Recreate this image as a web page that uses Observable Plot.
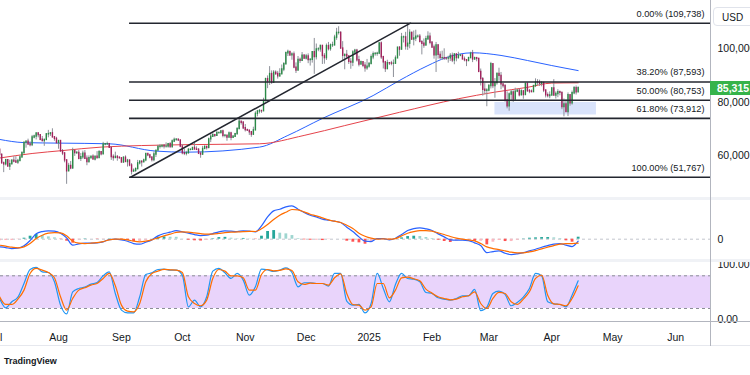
<!DOCTYPE html>
<html><head><meta charset="utf-8">
<script src="https://cdn.jsdelivr.net/npm/d3@7"></script>
<script src="https://cdn.jsdelivr.net/npm/@observablehq/plot@0.6"></script>
<style>
html,body{margin:0;padding:0;background:#fff;overflow:hidden;}
#root{position:relative;width:750px;height:375px;font-family:"Liberation Sans",Arial,sans-serif;color:#131722;overflow:hidden;}
.pane{position:absolute;left:0;}
.abs{position:absolute;}
</style></head><body><div id="root"></div>
<script>
// ---------- daily candles (thousands USD), Jul 3 2024 .. Apr 14 2025 ----------
const candleStart = "2024-07-03";
const firstOpen = 62.1;
const closes = [
 60.2,57.0,56.6,58.2,55.8,56.7,58.0,57.7,57.3,57.9,59.2,60.8,64.8,65.1,64.1,63.9,66.7,67.1,68.2,67.6,65.9,65.4,65.8,67.9,68.0,68.3,66.8,66.2,64.6,
 65.4,61.5,60.7,58.1,54.0,56.0,55.1,61.7,60.9,60.9,58.7,59.3,60.6,58.7,57.5,58.9,59.5,58.4,59.5,59.0,61.2,60.4,64.1,64.2,64.2,62.8,59.4,59.0,59.4,59.1,58.9,
 57.3,59.1,57.5,58.0,56.2,53.9,54.2,54.8,57.0,57.6,57.4,58.1,60.5,60.0,59.2,58.2,60.3,61.8,63.2,63.3,63.6,63.3,63.3,64.2,63.1,65.2,65.8,65.9,65.6,63.3,
 60.8,60.6,60.8,62.1,62.1,62.8,62.2,62.1,60.6,60.3,62.4,63.2,62.8,66.0,67.0,67.6,67.4,68.4,68.4,69.0,67.4,67.4,66.7,68.2,66.6,67.0,68.0,69.9,72.7,72.3,70.2,
 69.5,69.3,68.7,67.8,69.4,75.6,76.5,76.7,76.6,80.4,88.7,87.9,90.6,87.3,91.1,90.6,89.8,90.5,92.3,94.3,98.4,98.9,97.7,98.0,93.0,91.9,95.9,95.6,97.5,96.4,
 97.2,95.9,96.0,98.8,97.0,99.9,99.9,101.2,97.4,96.6,101.1,100.0,101.4,101.4,104.3,106.1,106.1,100.2,97.5,97.8,97.2,95.2,94.9,98.7,99.4,95.8,94.2,95.1,93.7,92.8,93.4,
 94.4,96.9,98.1,98.2,98.3,102.1,96.9,95.0,92.5,94.7,94.6,94.5,94.5,96.5,100.5,99.8,104.4,104.4,101.0,102.0,106.1,103.6,104.0,104.7,104.7,102.6,102.0,101.3,103.7,104.7,102.4,
 100.6,97.7,101.4,97.8,96.6,96.6,96.5,96.4,96.5,97.4,95.7,98.0,96.6,97.5,97.6,96.1,95.8,95.5,96.6,98.3,96.1,96.6,96.3,91.4,88.7,84.7,84.3,84.4,
 86.1,94.3,86.1,87.2,90.6,89.9,86.7,86.1,80.7,78.5,82.9,83.7,81.0,84.0,84.3,82.6,84.1,82.7,86.8,84.2,84.0,83.8,86.1,87.5,87.4,86.9,87.2,84.4,82.6,82.3,82.5,
 85.2,82.5,83.1,83.8,83.5,78.2,79.2,76.3,82.6,79.6,83.4,85.3,83.7,85.315
];
const highs = [
 62.3,60.5,57.5,58.5,58.4,58.2,58.3,59.5,59.5,58.5,59.9,61.4,64.9,65.4,66.1,65.1,67.5,67.6,68.4,68.5,67.8,67.1,66.1,68.2,69.4,68.3,70.0,67.0,66.8,
 65.6,65.6,62.2,61.1,58.3,57.0,57.7,62.7,61.7,61.5,61.8,60.7,61.6,61.8,59.8,59.8,59.6,60.2,59.6,61.4,61.8,61.4,64.9,64.5,65.0,64.5,63.2,60.2,61.2,59.9,59.4,
 59.0,59.4,59.8,58.5,58.3,56.9,54.9,55.3,58.1,58.0,57.9,58.6,60.6,60.6,60.4,59.2,61.3,61.8,63.8,64.1,63.6,63.9,64.7,64.5,64.8,65.8,66.5,66.3,66.1,65.6,
 64.1,62.4,61.5,62.5,62.4,62.9,64.5,63.2,62.5,61.3,63.4,63.5,63.3,66.5,67.9,68.4,67.9,68.9,68.7,69.4,69.5,67.8,67.5,68.8,68.7,67.4,68.3,70.3,73.6,72.7,72.7,
 71.6,69.9,69.4,69.0,70.6,76.4,76.9,77.2,76.9,81.5,89.0,89.9,93.4,91.8,91.9,91.8,91.6,92.6,94.0,94.9,98.9,99.6,99.0,98.6,98.9,94.8,97.2,96.6,98.7,97.9,
 98.0,98.2,96.3,99.0,104.0,101.9,100.5,101.4,101.2,98.3,101.9,102.5,101.9,102.6,105.2,107.8,108.4,106.5,102.8,98.1,99.5,97.4,96.4,99.4,99.9,99.9,97.3,95.5,95.2,94.9,96.1,
 94.9,97.8,98.9,98.7,98.8,102.5,102.7,97.3,95.4,95.8,94.9,95.4,95.9,97.4,100.7,100.9,105.9,104.9,106.3,109.7,107.3,106.4,106.8,107.1,105.3,105.5,103.2,103.8,104.8,106.5,106.0,
 102.8,101.5,102.5,101.7,99.0,99.2,100.1,96.9,97.3,98.3,98.5,98.1,98.0,98.8,97.9,97.7,97.0,96.0,96.9,98.8,99.5,96.9,96.7,96.5,92.5,89.3,87.0,85.1,
 86.6,95.0,94.4,88.9,91.0,92.8,91.2,86.9,86.5,83.9,83.5,84.4,84.3,85.3,84.7,85.0,84.7,84.1,87.3,87.4,84.8,84.6,86.1,88.8,88.5,88.3,87.8,87.5,84.6,83.5,83.9,
 85.5,88.5,83.9,84.7,84.2,83.8,81.2,80.9,83.5,82.7,84.2,85.9,86.1,85.8
];
const lows = [
 59.4,56.8,53.5,56.0,55.7,54.3,56.3,57.2,57.0,56.6,57.8,59.2,60.7,62.7,63.9,63.2,63.3,66.2,65.8,66.6,65.5,65.1,63.4,65.8,66.6,67.1,66.5,65.3,64.5,
 62.3,61.2,59.9,57.2,49.1,53.9,54.6,54.7,59.6,60.3,58.3,57.7,58.5,58.4,56.1,57.1,58.8,58.4,57.9,58.6,58.8,59.8,60.3,63.6,63.8,62.8,58.1,57.8,58.8,57.8,58.7,
 57.2,57.1,57.4,55.6,55.7,52.6,53.8,53.6,54.6,56.4,55.6,57.3,57.6,59.5,58.7,57.5,57.6,59.2,61.6,62.4,62.8,62.4,62.7,62.7,62.7,62.7,64.8,65.4,65.4,62.9,
 60.2,59.9,59.8,60.5,61.7,61.8,62.1,61.8,60.3,58.9,60.0,62.4,62.0,62.4,64.8,66.7,66.7,67.1,68.0,68.1,66.6,66.6,65.3,66.5,65.5,66.5,66.8,67.6,69.7,71.4,69.7,
 68.8,69.0,67.5,66.8,67.5,69.3,74.5,75.6,75.8,76.5,80.2,85.1,86.3,86.7,87.1,90.1,88.7,89.4,90.5,91.5,94.1,97.2,97.2,95.8,92.6,90.8,91.8,94.6,95.3,96.1,
 95.9,94.5,93.6,94.7,90.5,95.9,99.0,98.8,94.2,94.3,95.7,99.3,99.2,100.6,101.2,103.3,105.3,100.0,95.6,92.2,96.4,94.2,92.4,93.4,97.6,95.1,93.3,94.1,93.0,91.3,92.0,
 92.8,94.2,96.0,97.3,97.3,97.9,96.1,92.5,91.2,92.2,93.8,93.7,89.3,94.3,96.5,97.3,99.7,102.3,99.6,99.5,100.1,103.3,101.2,102.8,104.1,102.5,97.8,100.3,101.3,103.3,101.6,
 100.3,96.2,91.2,96.2,96.2,95.7,95.7,95.7,94.7,95.3,94.9,94.1,95.2,96.3,97.1,96.0,95.2,93.4,95.3,96.4,94.9,95.8,95.2,91.4,86.1,82.3,82.8,78.3,
 83.9,85.0,85.1,81.5,86.4,87.9,84.7,85.3,80.0,77.5,76.6,80.2,79.9,80.8,83.6,82.0,82.5,81.1,82.6,83.7,83.2,83.6,83.8,85.5,86.3,85.9,85.8,83.6,81.6,81.6,81.3,
 82.4,82.3,81.2,81.7,82.4,77.2,74.5,76.2,74.6,78.5,78.9,82.8,82.7,83.7
];

// ---------- moving averages ----------
const sma100Dates = ["2024-07-03","2024-07-15","2024-08-02","2024-08-26","2024-09-18","2024-10-03","2024-11-08","2024-11-22","2024-12-09","2025-01-03","2025-01-16","2025-01-30","2025-02-08","2025-02-21","2025-03-07","2025-03-20","2025-04-01","2025-04-14"];
const sma100Values = [66.0,64.8,64.6,64.35,61.6,61.2,63.1,67.5,73.9,82.5,88.2,93.8,96.8,98.6,97.6,95.7,93.8,91.9];
const sma200Dates = ["2024-07-03","2024-07-19","2024-08-03","2024-08-22","2024-10-01","2024-11-08","2024-11-30","2024-12-20","2025-01-16","2025-02-14","2025-03-04","2025-03-20","2025-04-01","2025-04-14"];
const sma200Values = [59.0,60.7,61.8,63.1,64.0,64.35,67.5,71.2,76.2,81.3,83.8,85.6,87.2,87.3];

// ---------- drawings ----------
const fibRatios = [0, 0.382, 0.5, 0.618, 1];
const fibPrices = [109.738, 87.593, 80.753, 73.912, 51.767];
const fibStart = "2024-09-05";
const trendDates = ["2024-09-05T12:00Z", "2025-01-21T09:00Z"];
const trendPrices = [51.767, 109.738];
const zoneDates = ["2025-03-04", "2025-04-23"];
const zonePrices = [79.9, 75.2];

// ---------- indicators, every 3 days from Jul 3 2024 ----------
const indStart = "2024-07-03";
const indStepDays = 3;
const macdLine = [
 -1530,-1670,-1870,-1800,-1330,-270,1070,1530,1670,1600,1200,270,-1200,-930,-800,-800,-730,-530,-70,0,-130,-400,-870,-1000,-600,-130,670,1130,1400,1730,1470,1200,930,
 730,800,1130,1470,1670,1600,1530,1670,1600,1470,2670,4470,5670,6000,6470,6670,6000,5340,4800,4470,4000,3800,3600,3340,2400,1530,470,-400,-470,130,130,-130,
 200,930,1730,2130,2270,2070,1730,1070,470,-130,-200,-200,-270,-730,-1270,-2670,-2470,-2330,-2800,-3070,-2930,-2670,-2330,-2000,-1600,-1270,-1000,-870,-1200,-1470,-400
];
const signalLine = [
 -1200,-1400,-1600,-1730,-1530,-870,130,800,1200,1330,1270,670,-400,-800,-870,-800,-670,-470,-130,0,0,-130,-400,-530,-400,-130,270,670,1000,1350,1450,1400,1250,
 1100,1000,1030,1150,1300,1400,1450,1520,1560,1540,
 2070,2930,3940,4800,5400,5940,5870,5470,5000,4670,4270,3870,3600,3340,2800,2130,1200,600,200,0,70,0,
 130,670,1200,1530,1730,1730,1600,1270,930,530,200,0,-130,-330,-870,-1530,-1870,-2070,-2330,-2600,-2730,-2730,-2530,-2270,-1930,-1600,-1270,-1000,-870,-870,-800
];
const stochK = [
 38.4,21.3,32.3,40.9,65.9,91.6,95.3,87.3,86.1,69.0,26.2,10.0,50.6,56.8,59.2,64.7,67.8,80.0,87.3,47.6,17.0,12.0,12.0,41.5,82.4,85.5,91.6,92.2,90.4,90.4,81.2,23.1,35.4,
 23.1,41.5,88.6,93.5,85.5,75.1,84.3,72.0,44.5,59.8,92.2,91.0,88.0,90.4,94.7,86.1,59.8,67.2,67.2,65.9,65.9,61.0,84.3,84.3,33.5,26.2,27.4,12.0,29.2,84.3,56.8,32.3,
 64.1,84.3,75.1,73.9,69.0,49.4,47.6,39.6,37.2,35.4,38.4,43.3,43.3,54.9,16.0,22.5,47.6,51.9,45.8,25.0,31.1,40.9,56.8,84.3,80.0,32.3,28.6,27.4,23.1,44.5,70.8
];
const stochD = [
 41.5,27.4,27.4,37.2,53.7,84.3,93.5,90.4,86.1,76.3,41.5,17.0,38.4,53.7,58.0,62.9,65.9,75.1,84.3,61.7,26.2,15.2,13.9,29.2,69.0,84.3,88.6,91.6,91.0,90.4,86.1,41.5,29.2,
 25.0,35.4,75.1,91.6,88.6,80.0,80.0,76.3,53.7,53.7,82.4,91.6,89.2,89.8,92.8,89.8,69.0,64.1,66.5,65.9,65.9,62.9,76.3,83.7,47.6,27.4,26.2,17.0,23.1,65.9,65.9,39.6,
 53.7,76.3,77.6,74.5,70.8,55.5,48.2,41.5,38.4,36.0,37.2,41.5,43.3,50.6,29.2,20.1,38.4,49.4,47.6,32.3,27.4,37.2,50.6,75.1,81.2,44.5,28.6,27.4,25.0,38.4,61.7
];
const stochLevels = [20, 80];

// ---------- axes ----------
const xDomain = ["2024-07-03T10:18Z", "2025-06-18T04:40Z"];
const monthTicks = ["2024-07-01","2024-08-01","2024-09-01","2024-10-01","2024-11-01","2024-12-01","2025-01-01","2025-02-01","2025-03-01","2025-04-01","2025-05-01","2025-06-01"];
const monthLabels = ["Jul","Aug","Sep","Oct","Nov","Dec","2025","Feb","Mar","Apr","May","Jun"];
const priceTicks = [60, 80, 100];
const priceDomain = [44.14, 118.28];
const macdDomain = [-4060, 7740];
const stochDomain = [-5.7, 104.4];

// ---------- build ----------
const root = document.getElementById("root");
const up = "#2a8a47", down = "#a2225c";
const xDom = xDomain.map(s => new Date(s));
const day0 = new Date(candleStart);
const candles = closes.map((c, i) => ({
  date: d3.utcDay.offset(day0, i), open: i ? closes[i - 1] : firstOpen,
  high: highs[i], low: lows[i], close: c
}));
const sma100 = sma100Dates.map((d, i) => ({date: new Date(d), v: sma100Values[i]}));
const sma200 = sma200Dates.map((d, i) => ({date: new Date(d), v: sma200Values[i]}));
const xEnd = xDom[1];
const fmtK = v => d3.format(",")(Math.round(v * 1000));
const fibs = fibPrices.map((p, i) => ({
  price: p, x1: new Date(fibStart), x2: xEnd,
  label: `${(fibRatios[i] * 100).toFixed(2)}% (${fmtK(p)})`
}));
const trend = trendDates.map((d, i) => ({date: new Date(d), v: trendPrices[i]}));
const zone = [{x1: new Date(zoneDates[0]), x2: new Date(zoneDates[1]), y1: zonePrices[0], y2: zonePrices[1]}];
const i0 = new Date(indStart);
const ind = macdLine.map((m, i) => ({
  date: d3.utcDay.offset(i0, i * indStepDays), macd: m, signal: signalLine[i],
  hist: m - signalLine[i], k: stochK[i], d: stochD[i]
}));
ind.forEach((r, i) => {
  const prev = i ? ind[i - 1].hist : r.hist;
  r.hcolor = r.hist >= 0 ? (r.hist >= prev ? "#26a69a" : "#9fd6d0") : (r.hist >= prev ? "#fbb7be" : "#ff5252");
});

const style = {fontFamily: '"Liberation Sans", Arial, sans-serif', fontSize: "10.5px", color: "#131722", background: "transparent", overflow: "visible"};
const base = {width: 750, marginLeft: 0, marginRight: 40, marginTop: 0, marginBottom: 0, style, color: {type: "identity"}};
const xOpt = {type: "utc", domain: xDom, axis: null};

function place(node, top) {
  const wrap = document.createElement("div");
  wrap.className = "pane"; wrap.style.top = top + "px";
  wrap.appendChild(node); root.appendChild(wrap);
}

// price pane
place(Plot.plot({
  ...base, height: 197,
  x: xOpt,
  y: {domain: priceDomain, axis: "right", ticks: priceTicks, tickSize: 0, tickPadding: 7, tickFormat: fmtK, label: null},
  marks: [
    Plot.rect(zone, {x1: "x1", x2: "x2", y1: "y1", y2: "y2", fill: "#d9e3fb"}),
    Plot.line(sma100, {x: "date", y: "v", stroke: "#2962ff", strokeWidth: 1, curve: "monotone-x"}),
    Plot.line(sma200, {x: "date", y: "v", stroke: "#e5434b", strokeWidth: 1, curve: "monotone-x"}),
    Plot.ruleX(candles, {x: "date", y1: "low", y2: "high", stroke: "#8d9099", strokeWidth: 1, clip: true}),
    Plot.ruleX(candles, {x: "date", y1: "open", y2: "close", stroke: d => d.close >= d.open ? up : down, strokeWidth: 1.4, strokeLinecap: "square", clip: true}),
    Plot.ruleY(fibs, {y: "price", x1: "x1", x2: "x2", stroke: "#23262f", strokeWidth: 1.6}),
    Plot.line(trend, {x: "date", y: "v", stroke: "#23262f", strokeWidth: 1.5}),
    Plot.text(fibs, {x: "x2", y: "price", text: "label", textAnchor: "end", dx: -6, dy: -9.5, fontSize: 9.2, fill: "#131722"})
  ]
}), 0);

// MACD pane
place(Plot.plot({
  ...base, height: 59,
  x: xOpt,
  y: {domain: macdDomain, axis: "right", ticks: [0], tickSize: 0, tickPadding: 7, tickFormat: d => d3.format(",")(d), label: null},
  marks: [
    Plot.ruleY([0], {stroke: "#c3c6cd", strokeDasharray: "3,3"}),
    Plot.ruleX(ind, {x: "date", y1: 0, y2: "hist", stroke: "hcolor", strokeWidth: 2.8}),
    Plot.line(ind, {x: "date", y: "macd", stroke: "#2962ff", strokeWidth: 1.2, curve: "monotone-x"}),
    Plot.line(ind, {x: "date", y: "signal", stroke: "#ff6d00", strokeWidth: 1.2, curve: "monotone-x"})
  ]
}), 200);

// Stochastic pane
place(Plot.plot({
  ...base, height: 60,
  x: xOpt,
  y: {domain: stochDomain, axis: "right", ticks: [0, 100], tickSize: 0, tickPadding: 7, tickFormat: d3.format(".2f"), label: null},
  marks: [
    Plot.rect([{lo: stochLevels[0], hi: stochLevels[1]}], {y1: "lo", y2: "hi", fill: "#e9d4fb"}),
    Plot.ruleY(stochLevels, {stroke: "#8a8d96", strokeDasharray: "3,3"}),
    Plot.line(ind, {x: "date", y: "k", stroke: "#2196f3", strokeWidth: 1.2, curve: "monotone-x"}),
    Plot.line(ind, {x: "date", y: "d", stroke: "#ff6d00", strokeWidth: 1.2, curve: "monotone-x"})
  ]
}), 262);

// time axis
const ticks = monthTicks.map((d, i) => ({date: new Date(d), label: monthLabels[i]}));
place(Plot.plot({
  ...base, height: 30,
  x: xOpt,
  marks: [Plot.text(ticks, {x: "date", text: "label", fontSize: 10.5, fill: "#131722"})]
}), 322);

// chrome
function box(css, text) {
  const d = document.createElement("div");
  d.className = "abs"; d.style.cssText = css;
  if (text) d.textContent = text;
  root.appendChild(d);
  return d;
}
box("left:0;top:197px;width:750px;height:3px;background:#f0f2f6;");
box("left:0;top:259px;width:750px;height:3px;background:#f0f2f6;");
box("left:0;top:321px;width:750px;height:1px;background:#b2b5be;");
box("left:0;top:345px;width:750px;height:1px;background:#e6e8ee;");
box("left:710px;top:0;width:1px;height:346px;background:#b2b5be;");
box("left:713px;top:7px;width:44px;height:19px;border:1px solid #e0e3eb;border-radius:4px;background:#fff;font-size:10px;line-height:19px;padding-left:8px;box-sizing:border-box;", "USD");
box("left:710px;top:81px;width:40px;height:14px;background:#36b34a;color:#fff;font-weight:bold;font-size:10.5px;line-height:14px;padding-left:7px;box-sizing:border-box;white-space:nowrap;overflow:hidden;", fmtK(closes[closes.length - 1]));
box("left:4px;top:355px;font-size:9px;font-weight:bold;color:#131722;line-height:12px;", "TradingView");
</script></body></html>
